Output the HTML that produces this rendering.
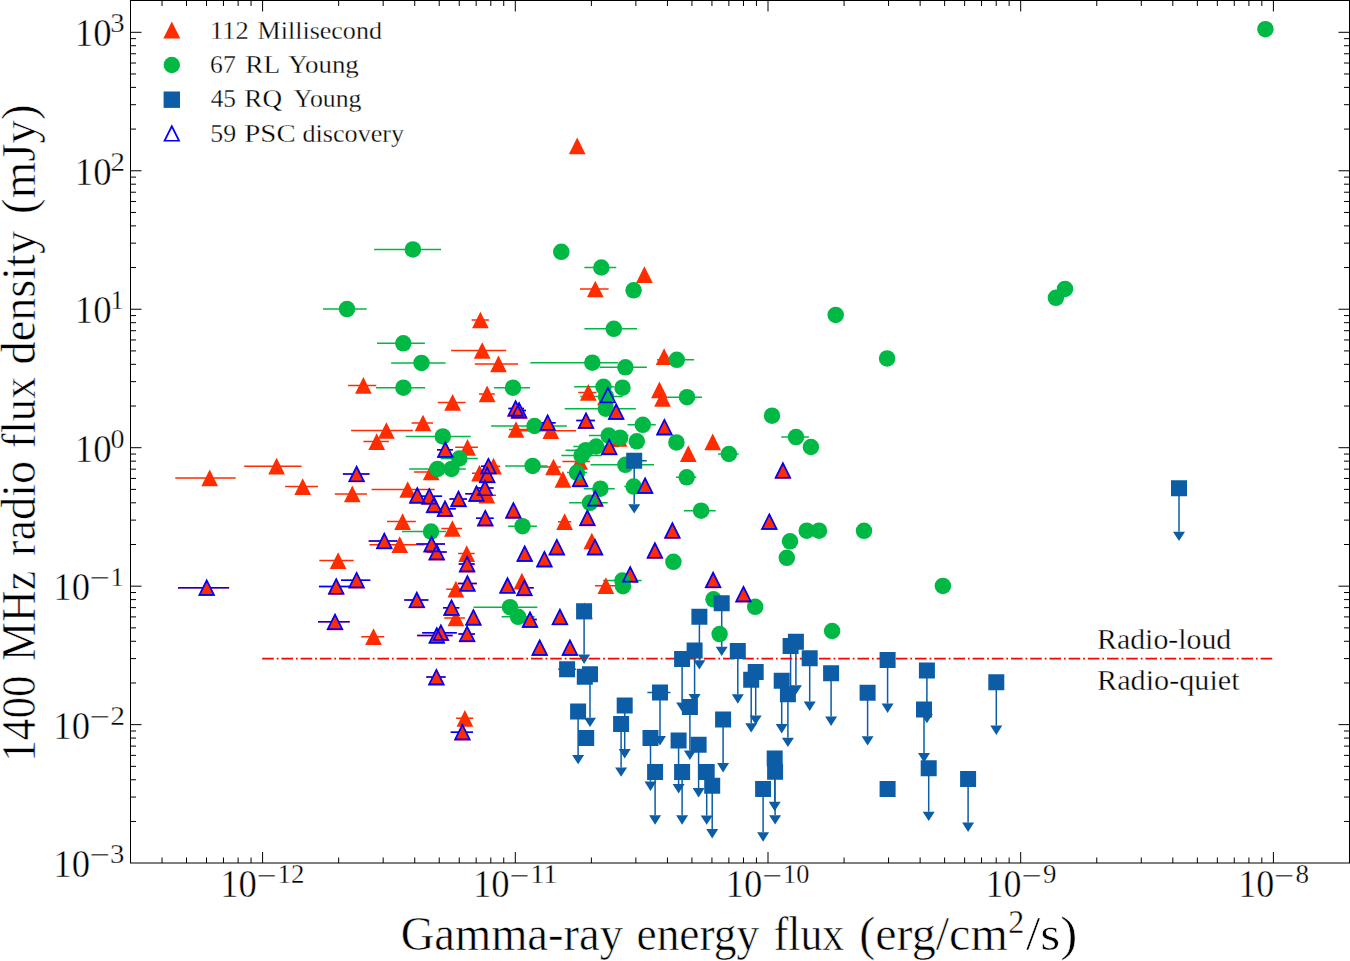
<!DOCTYPE html>
<html><head><meta charset="utf-8"><title>Radio vs gamma-ray flux</title>
<style>html,body{margin:0;padding:0;background:#fff;} svg{display:block;} text{font-family:"Liberation Serif",serif;stroke:#fff;paint-order:fill;}</style>
</head><body>
<svg width="1350" height="961" viewBox="0 0 1350 961">
<rect width="1350" height="961" fill="#fff"/>
<path d="M162.04 863.0v-5.5M162.04 0.5v5.5M186.53 863.0v-5.5M186.53 0.5v5.5M206.54 863.0v-5.5M206.54 0.5v5.5M223.46 863.0v-5.5M223.46 0.5v5.5M238.11 863.0v-5.5M238.11 0.5v5.5M251.04 863.0v-5.5M251.04 0.5v5.5M262.60 863.0v-11M262.60 0.5v11M338.67 863.0v-5.5M338.67 0.5v5.5M383.17 863.0v-5.5M383.17 0.5v5.5M414.74 863.0v-5.5M414.74 0.5v5.5M439.23 863.0v-5.5M439.23 0.5v5.5M459.24 863.0v-5.5M459.24 0.5v5.5M476.16 863.0v-5.5M476.16 0.5v5.5M490.81 863.0v-5.5M490.81 0.5v5.5M503.74 863.0v-5.5M503.74 0.5v5.5M515.30 863.0v-11M515.30 0.5v11M591.37 863.0v-5.5M591.37 0.5v5.5M635.87 863.0v-5.5M635.87 0.5v5.5M667.44 863.0v-5.5M667.44 0.5v5.5M691.93 863.0v-5.5M691.93 0.5v5.5M711.94 863.0v-5.5M711.94 0.5v5.5M728.86 863.0v-5.5M728.86 0.5v5.5M743.51 863.0v-5.5M743.51 0.5v5.5M756.44 863.0v-5.5M756.44 0.5v5.5M768.00 863.0v-11M768.00 0.5v11M844.07 863.0v-5.5M844.07 0.5v5.5M888.57 863.0v-5.5M888.57 0.5v5.5M920.14 863.0v-5.5M920.14 0.5v5.5M944.63 863.0v-5.5M944.63 0.5v5.5M964.64 863.0v-5.5M964.64 0.5v5.5M981.56 863.0v-5.5M981.56 0.5v5.5M996.21 863.0v-5.5M996.21 0.5v5.5M1009.14 863.0v-5.5M1009.14 0.5v5.5M1020.70 863.0v-11M1020.70 0.5v11M1096.77 863.0v-5.5M1096.77 0.5v5.5M1141.27 863.0v-5.5M1141.27 0.5v5.5M1172.84 863.0v-5.5M1172.84 0.5v5.5M1197.33 863.0v-5.5M1197.33 0.5v5.5M1217.34 863.0v-5.5M1217.34 0.5v5.5M1234.26 863.0v-5.5M1234.26 0.5v5.5M1248.91 863.0v-5.5M1248.91 0.5v5.5M1261.84 863.0v-5.5M1261.84 0.5v5.5M1273.40 863.0v-11M1273.40 0.5v11M130.5 821.44h5.5M1349.5 821.44h-5.5M130.5 797.05h5.5M1349.5 797.05h-5.5M130.5 779.75h5.5M1349.5 779.75h-5.5M130.5 766.33h5.5M1349.5 766.33h-5.5M130.5 755.37h5.5M1349.5 755.37h-5.5M130.5 746.10h5.5M1349.5 746.10h-5.5M130.5 738.07h5.5M1349.5 738.07h-5.5M130.5 730.99h5.5M1349.5 730.99h-5.5M130.5 724.65h11M1349.5 724.65h-11M130.5 682.97h5.5M1349.5 682.97h-5.5M130.5 658.58h5.5M1349.5 658.58h-5.5M130.5 641.28h5.5M1349.5 641.28h-5.5M130.5 627.86h5.5M1349.5 627.86h-5.5M130.5 616.90h5.5M1349.5 616.90h-5.5M130.5 607.63h5.5M1349.5 607.63h-5.5M130.5 599.60h5.5M1349.5 599.60h-5.5M130.5 592.52h5.5M1349.5 592.52h-5.5M130.5 586.18h11M1349.5 586.18h-11M130.5 544.50h5.5M1349.5 544.50h-5.5M130.5 520.11h5.5M1349.5 520.11h-5.5M130.5 502.81h5.5M1349.5 502.81h-5.5M130.5 489.39h5.5M1349.5 489.39h-5.5M130.5 478.43h5.5M1349.5 478.43h-5.5M130.5 469.16h5.5M1349.5 469.16h-5.5M130.5 461.13h5.5M1349.5 461.13h-5.5M130.5 454.05h5.5M1349.5 454.05h-5.5M130.5 447.71h11M1349.5 447.71h-11M130.5 406.03h5.5M1349.5 406.03h-5.5M130.5 381.64h5.5M1349.5 381.64h-5.5M130.5 364.34h5.5M1349.5 364.34h-5.5M130.5 350.92h5.5M1349.5 350.92h-5.5M130.5 339.96h5.5M1349.5 339.96h-5.5M130.5 330.69h5.5M1349.5 330.69h-5.5M130.5 322.66h5.5M1349.5 322.66h-5.5M130.5 315.58h5.5M1349.5 315.58h-5.5M130.5 309.24h11M1349.5 309.24h-11M130.5 267.56h5.5M1349.5 267.56h-5.5M130.5 243.17h5.5M1349.5 243.17h-5.5M130.5 225.87h5.5M1349.5 225.87h-5.5M130.5 212.45h5.5M1349.5 212.45h-5.5M130.5 201.49h5.5M1349.5 201.49h-5.5M130.5 192.22h5.5M1349.5 192.22h-5.5M130.5 184.19h5.5M1349.5 184.19h-5.5M130.5 177.11h5.5M1349.5 177.11h-5.5M130.5 170.77h11M1349.5 170.77h-11M130.5 129.09h5.5M1349.5 129.09h-5.5M130.5 104.70h5.5M1349.5 104.70h-5.5M130.5 87.40h5.5M1349.5 87.40h-5.5M130.5 73.98h5.5M1349.5 73.98h-5.5M130.5 63.02h5.5M1349.5 63.02h-5.5M130.5 53.75h5.5M1349.5 53.75h-5.5M130.5 45.72h5.5M1349.5 45.72h-5.5M130.5 38.64h5.5M1349.5 38.64h-5.5M130.5 32.30h11M1349.5 32.30h-11" stroke="#000" stroke-width="1" fill="none"/>
<text x="220.19" y="896.60" font-size="40.00" textLength="36.69" lengthAdjust="spacingAndGlyphs" fill="#000" stroke-width="0.48">10</text>
<text x="257.04" y="884.60" font-size="28.00" textLength="19.89" lengthAdjust="spacingAndGlyphs" fill="#000" stroke-width="0.34">−</text>
<text x="277.55" y="882.80" font-size="28.30" textLength="26.82" lengthAdjust="spacingAndGlyphs" fill="#000" stroke-width="0.34">12</text>
<text x="472.89" y="896.60" font-size="40.00" textLength="36.69" lengthAdjust="spacingAndGlyphs" fill="#000" stroke-width="0.48">10</text>
<text x="509.74" y="884.60" font-size="28.00" textLength="19.89" lengthAdjust="spacingAndGlyphs" fill="#000" stroke-width="0.34">−</text>
<text x="530.13" y="882.80" font-size="28.30" textLength="27.17" lengthAdjust="spacingAndGlyphs" fill="#000" stroke-width="0.34">11</text>
<text x="725.59" y="896.60" font-size="40.00" textLength="36.69" lengthAdjust="spacingAndGlyphs" fill="#000" stroke-width="0.48">10</text>
<text x="762.44" y="884.60" font-size="28.00" textLength="19.89" lengthAdjust="spacingAndGlyphs" fill="#000" stroke-width="0.34">−</text>
<text x="783.00" y="882.80" font-size="28.30" textLength="26.29" lengthAdjust="spacingAndGlyphs" fill="#000" stroke-width="0.34">10</text>
<text x="985.45" y="896.60" font-size="40.00" textLength="36.00" lengthAdjust="spacingAndGlyphs" fill="#000" stroke-width="0.48">10</text>
<text x="1021.65" y="884.60" font-size="28.00" textLength="20.25" lengthAdjust="spacingAndGlyphs" fill="#000" stroke-width="0.34">−</text>
<text x="1042.93" y="882.80" font-size="28.30" textLength="13.45" lengthAdjust="spacingAndGlyphs" fill="#000" stroke-width="0.34">9</text>
<text x="1238.15" y="896.60" font-size="40.00" textLength="36.00" lengthAdjust="spacingAndGlyphs" fill="#000" stroke-width="0.48">10</text>
<text x="1274.35" y="884.60" font-size="28.00" textLength="20.25" lengthAdjust="spacingAndGlyphs" fill="#000" stroke-width="0.34">−</text>
<text x="1295.49" y="882.80" font-size="28.30" textLength="13.53" lengthAdjust="spacingAndGlyphs" fill="#000" stroke-width="0.34">8</text>
<text x="53.29" y="877.02" font-size="40.00" textLength="36.69" lengthAdjust="spacingAndGlyphs" fill="#000" stroke-width="0.48">10</text>
<text x="89.88" y="864.42" font-size="28.00" textLength="20.50" lengthAdjust="spacingAndGlyphs" fill="#000" stroke-width="0.34">−</text>
<text x="110.13" y="863.12" font-size="28.30" textLength="14.42" lengthAdjust="spacingAndGlyphs" fill="#000" stroke-width="0.34">3</text>
<text x="53.29" y="738.55" font-size="40.00" textLength="36.69" lengthAdjust="spacingAndGlyphs" fill="#000" stroke-width="0.48">10</text>
<text x="89.88" y="725.95" font-size="28.00" textLength="20.50" lengthAdjust="spacingAndGlyphs" fill="#000" stroke-width="0.34">−</text>
<text x="110.24" y="724.65" font-size="28.30" textLength="14.78" lengthAdjust="spacingAndGlyphs" fill="#000" stroke-width="0.34">2</text>
<text x="53.29" y="600.08" font-size="40.00" textLength="36.69" lengthAdjust="spacingAndGlyphs" fill="#000" stroke-width="0.48">10</text>
<text x="89.88" y="587.48" font-size="28.00" textLength="20.50" lengthAdjust="spacingAndGlyphs" fill="#000" stroke-width="0.34">−</text>
<text x="110.49" y="586.18" font-size="28.30" textLength="13.19" lengthAdjust="spacingAndGlyphs" fill="#000" stroke-width="0.34">1</text>
<text x="74.78" y="461.61" font-size="40.00" textLength="36.80" lengthAdjust="spacingAndGlyphs" fill="#000" stroke-width="0.48">10</text>
<text x="110.55" y="447.71" font-size="28.30" textLength="14.00" lengthAdjust="spacingAndGlyphs" fill="#000" stroke-width="0.34">0</text>
<text x="74.78" y="323.14" font-size="40.00" textLength="36.80" lengthAdjust="spacingAndGlyphs" fill="#000" stroke-width="0.48">10</text>
<text x="110.59" y="309.24" font-size="28.30" textLength="13.19" lengthAdjust="spacingAndGlyphs" fill="#000" stroke-width="0.34">1</text>
<text x="74.78" y="184.67" font-size="40.00" textLength="36.80" lengthAdjust="spacingAndGlyphs" fill="#000" stroke-width="0.48">10</text>
<text x="110.34" y="170.77" font-size="28.30" textLength="14.78" lengthAdjust="spacingAndGlyphs" fill="#000" stroke-width="0.34">2</text>
<text x="74.78" y="46.20" font-size="40.00" textLength="36.80" lengthAdjust="spacingAndGlyphs" fill="#000" stroke-width="0.48">10</text>
<text x="110.23" y="32.30" font-size="28.30" textLength="14.42" lengthAdjust="spacingAndGlyphs" fill="#000" stroke-width="0.34">3</text>
<text x="400.64" y="949.60" font-size="47.50" textLength="222.40" lengthAdjust="spacingAndGlyphs" fill="#000" stroke-width="0.57">Gamma-ray</text>
<text x="636.48" y="949.60" font-size="47.50" textLength="122.84" lengthAdjust="spacingAndGlyphs" fill="#000" stroke-width="0.57">energy</text>
<text x="773.69" y="949.60" font-size="47.50" textLength="70.50" lengthAdjust="spacingAndGlyphs" fill="#000" stroke-width="0.57">flux</text>
<text x="859.26" y="949.60" font-size="47.50" textLength="148.53" lengthAdjust="spacingAndGlyphs" fill="#000" stroke-width="0.57">(erg/cm</text>
<text x="1008.14" y="932.50" font-size="33.00" textLength="16.02" lengthAdjust="spacingAndGlyphs" fill="#000" stroke-width="0.40">2</text>
<text x="1026.10" y="949.60" font-size="47.50" textLength="51.39" lengthAdjust="spacingAndGlyphs" fill="#000" stroke-width="0.57">/s)</text>
<g transform="rotate(-90)"><text x="-761.67" y="35.20" font-size="47.50" textLength="86.08" lengthAdjust="spacingAndGlyphs" fill="#000" stroke-width="0.57">1400</text><text x="-660.91" y="35.20" font-size="47.50" textLength="90.12" lengthAdjust="spacingAndGlyphs" fill="#000" stroke-width="0.57">MHz</text><text x="-555.93" y="35.20" font-size="47.50" textLength="95.15" lengthAdjust="spacingAndGlyphs" fill="#000" stroke-width="0.57">radio</text><text x="-448.23" y="35.20" font-size="47.50" textLength="71.32" lengthAdjust="spacingAndGlyphs" fill="#000" stroke-width="0.57">flux</text><text x="-364.42" y="35.20" font-size="47.50" textLength="133.47" lengthAdjust="spacingAndGlyphs" fill="#000" stroke-width="0.57">density</text><text x="-213.89" y="35.20" font-size="47.50" textLength="109.41" lengthAdjust="spacingAndGlyphs" fill="#000" stroke-width="0.57">(mJy)</text></g>
<text x="1097.08" y="648.80" font-size="28.80" textLength="134.18" lengthAdjust="spacingAndGlyphs" fill="#000" stroke-width="0.35">Radio-loud</text>
<text x="1097.07" y="690.00" font-size="28.80" textLength="142.52" lengthAdjust="spacingAndGlyphs" fill="#000" stroke-width="0.35">Radio-quiet</text>
<path d="M471.60 320.00H488.90M451.10 350.50H506.20M580.00 289.00H608.60M348.10 385.40H376.30M244.20 466.20H301.60M175.30 477.90H235.70M285.10 486.60H318.00M474.80 363.90H518.10M479.00 393.90H494.80M437.80 402.40H465.60M411.60 423.00H433.00M351.10 430.50H412.90M363.40 441.60H388.90M509.00 429.50H528.30M455.20 447.30H477.90M508.40 408.40H524.00M511.00 410.40H526.00M520.00 430.70H576.00M541.00 422.70H555.60M576.30 420.60H594.90M578.20 392.40H596.40M562.40 461.50H590.00M540.00 467.00H560.80M558.00 521.70H571.20M595.00 585.70H615.00M515.10 587.80H533.70M414.00 472.00H448.40M371.60 489.50H434.70M416.50 496.30H442.10M434.20 508.70H455.80M449.50 498.90H467.00M465.30 493.70H487.70M476.40 488.00H493.60M477.60 495.20H496.00M476.10 518.20H493.60M387.00 521.60H415.80M441.30 528.50H462.10M369.50 544.70H424.40M416.30 544.10H445.00M426.70 552.10H446.70M458.10 553.60H474.70M458.70 564.10H474.70M481.20 466.20H495.00M486.00 466.20H500.00M472.00 473.20H487.00M342.90 474.00H369.50M334.80 493.90H367.00M368.70 541.00H397.40M178.00 587.70H229.10M319.30 560.60H353.70M318.90 586.50H350.00M318.00 621.80H349.70M341.00 580.20H370.30M404.30 600.00H428.40M458.00 583.50H476.80M446.20 589.20H465.00M443.00 607.70H459.30M444.30 618.00H464.90M361.20 636.70H384.30M417.20 635.40H452.60M422.20 632.70H456.80M458.40 633.90H474.90M523.20 619.60H536.80M426.30 677.10H445.60M456.10 718.30H473.30M450.70 732.20H473.00M437.00 449.70H452.90" stroke="#FF2C00" stroke-width="1.5" fill="none"/>
<path d="M374.10 249.40H441.00M323.00 309.10H366.70M377.00 343.30H424.90M391.10 362.90H445.60M584.40 267.50H616.30M584.40 328.80H637.00M376.00 387.70H425.20M494.10 387.70H529.90M491.10 426.00H566.90M405.70 436.40H470.80M440.70 458.50H477.90M530.40 362.70H618.30M599.60 367.30H646.90M657.00 359.80H694.10M574.10 386.80H614.10M667.20 397.20H702.00M580.30 396.50H622.50M564.70 408.70H635.80M627.50 424.80H655.80M588.90 435.60H628.50M670.00 442.40H682.80M573.30 446.50H619.10M565.50 450.20H606.10M561.30 455.40H601.90M567.00 472.60H587.00M590.50 464.80H654.00M624.30 486.60H643.10M583.70 488.70H614.70M569.10 502.80H607.70M781.30 437.10H808.90M718.00 454.00H738.70M676.00 477.30H696.40M684.00 510.70H715.70M508.10 526.20H536.90M603.10 580.60H641.70M409.20 468.90H465.80M442.60 468.90H460.40M402.00 531.60H446.10M473.50 607.20H537.40M501.60 616.80H534.60M505.20 465.90H547.50" stroke="#00B945" stroke-width="1.5" fill="none"/>
<path d="M621.70 460.80H646.70M558.10 669.30H576.10M647.40 692.60H670.50" stroke="#0C5DA5" stroke-width="1.5" fill="none"/>
<path d="M634.20 460.80V504.20M584.10 611.20V654.60M590.00 674.30V717.70M578.10 711.50V754.90M624.70 705.60V749.00M621.10 724.00V767.40M660.00 692.60V736.00M650.50 738.10V781.50M682.10 659.00V702.40M694.60 650.60V694.00M689.90 707.10V750.50M678.60 740.60V784.00M698.60 744.70V788.10M655.10 771.90V815.30M682.10 771.90V815.30M721.70 603.30V646.70M699.40 616.80V660.20M737.80 650.90V694.30M795.90 641.80V685.20M790.60 646.00V689.40M809.70 658.20V701.60M831.10 673.20V716.60M755.70 672.00V715.40M781.70 680.70V724.10M751.20 679.80V723.20M787.90 694.30V737.70M723.10 719.60V763.00M706.70 772.00V815.40M774.70 758.40V801.80M775.10 771.80V815.20M712.20 785.70V829.10M763.10 788.90V832.30M1179.00 488.30V531.70M887.60 660.10V703.50M926.90 670.50V713.90M996.30 682.20V725.60M867.60 692.80V736.20M924.00 709.60V753.00M928.70 768.30V811.70M968.10 779.10V822.50" stroke="#0C5DA5" stroke-width="1.5" fill="none"/>
<path d="M628.20 504.20H640.20L634.20 513.60ZM578.10 654.60H590.10L584.10 664.00ZM584.00 717.70H596.00L590.00 727.10ZM572.10 754.90H584.10L578.10 764.30ZM618.70 749.00H630.70L624.70 758.40ZM615.10 767.40H627.10L621.10 776.80ZM654.00 736.00H666.00L660.00 745.40ZM644.50 781.50H656.50L650.50 790.90ZM676.10 702.40H688.10L682.10 711.80ZM688.60 694.00H700.60L694.60 703.40ZM683.90 750.50H695.90L689.90 759.90ZM672.60 784.00H684.60L678.60 793.40ZM692.60 788.10H704.60L698.60 797.50ZM649.10 815.30H661.10L655.10 824.70ZM676.10 815.30H688.10L682.10 824.70ZM715.70 646.70H727.70L721.70 656.10ZM693.40 660.20H705.40L699.40 669.60ZM731.80 694.30H743.80L737.80 703.70ZM789.90 685.20H801.90L795.90 694.60ZM784.60 689.40H796.60L790.60 698.80ZM803.70 701.60H815.70L809.70 711.00ZM825.10 716.60H837.10L831.10 726.00ZM749.70 715.40H761.70L755.70 724.80ZM775.70 724.10H787.70L781.70 733.50ZM745.20 723.20H757.20L751.20 732.60ZM781.90 737.70H793.90L787.90 747.10ZM717.10 763.00H729.10L723.10 772.40ZM700.70 815.40H712.70L706.70 824.80ZM768.70 801.80H780.70L774.70 811.20ZM769.10 815.20H781.10L775.10 824.60ZM706.20 829.10H718.20L712.20 838.50ZM757.10 832.30H769.10L763.10 841.70ZM1173.00 531.70H1185.00L1179.00 541.10ZM881.60 703.50H893.60L887.60 712.90ZM920.90 713.90H932.90L926.90 723.30ZM990.30 725.60H1002.30L996.30 735.00ZM861.60 736.20H873.60L867.60 745.60ZM918.00 753.00H930.00L924.00 762.40ZM922.70 811.70H934.70L928.70 821.10ZM962.10 822.50H974.10L968.10 831.90Z" fill="#0C5DA5"/>
<path d="M437.00 449.70H452.90M508.40 408.40H524.00M511.00 410.40H526.00M541.00 422.70H555.60M576.30 420.60H594.90M515.10 587.80H533.70M416.50 496.30H442.10M434.20 508.70H455.80M449.50 498.90H467.00M465.30 493.70H487.70M476.40 488.00H493.60M476.10 518.20H493.60M416.30 544.10H445.00M426.70 552.10H446.70M458.70 564.10H474.70M481.20 466.20H495.00M342.90 474.00H369.50M368.70 541.00H397.40M178.00 587.70H229.10M318.90 586.50H350.00M318.00 621.80H349.70M341.00 580.20H370.30M404.30 600.00H428.40M458.00 583.50H476.80M443.00 607.70H459.30M417.20 635.40H452.60M422.20 632.70H456.80M458.40 633.90H474.90M523.20 619.60H536.80M426.30 677.10H445.60M450.70 732.20H473.00" stroke="#0000FF" stroke-width="1.5" fill="none"/>
<path d="M262.2 658.6H1272.8" stroke="#FF0000" stroke-width="1.8" stroke-dasharray="11.6 2.9 1.8 2.9" fill="none"/>
<path d="M480.40 311.65L488.75 328.35L472.05 328.35ZM482.20 342.15L490.55 358.85L473.85 358.85ZM644.40 266.35L652.75 283.05L636.05 283.05ZM595.30 280.65L603.65 297.35L586.95 297.35ZM363.40 377.05L371.75 393.75L355.05 393.75ZM276.60 457.85L284.95 474.55L268.25 474.55ZM209.70 469.55L218.05 486.25L201.35 486.25ZM302.70 478.25L311.05 494.95L294.35 494.95ZM498.50 355.55L506.85 372.25L490.15 372.25ZM487.10 385.55L495.45 402.25L478.75 402.25ZM452.60 394.05L460.95 410.75L444.25 410.75ZM423.00 414.65L431.35 431.35L414.65 431.35ZM386.40 422.15L394.75 438.85L378.05 438.85ZM376.70 433.25L385.05 449.95L368.35 449.95ZM516.00 421.15L524.35 437.85L507.65 437.85ZM467.50 438.95L475.85 455.65L459.15 455.65ZM515.60 400.05L523.95 416.75L507.25 416.75ZM519.10 402.05L527.45 418.75L510.75 418.75ZM550.80 422.35L559.15 439.05L542.45 439.05ZM547.60 414.35L555.95 431.05L539.25 431.05ZM586.00 412.25L594.35 428.95L577.65 428.95ZM588.30 384.05L596.65 400.75L579.95 400.75ZM664.10 348.35L672.45 365.05L655.75 365.05ZM659.40 381.45L667.75 398.15L651.05 398.15ZM662.50 389.95L670.85 406.65L654.15 406.65ZM605.50 388.65L613.85 405.35L597.15 405.35ZM616.20 403.25L624.55 419.95L607.85 419.95ZM664.40 418.85L672.75 435.55L656.05 435.55ZM619.00 430.15L627.35 446.85L610.65 446.85ZM609.20 438.55L617.55 455.25L600.85 455.25ZM579.60 453.15L587.95 469.85L571.25 469.85ZM553.50 458.65L561.85 475.35L545.15 475.35ZM562.90 470.95L571.25 487.65L554.55 487.65ZM580.10 470.45L588.45 487.15L571.75 487.15ZM645.10 477.25L653.45 493.95L636.75 493.95ZM712.70 433.55L721.05 450.25L704.35 450.25ZM688.30 445.35L696.65 462.05L679.95 462.05ZM782.90 462.15L791.25 478.85L774.55 478.85ZM672.40 522.15L680.75 538.85L664.05 538.85ZM769.30 513.35L777.65 530.05L760.95 530.05ZM564.60 513.35L572.95 530.05L556.25 530.05ZM587.40 509.55L595.75 526.25L579.05 526.25ZM591.80 532.65L600.15 549.35L583.45 549.35ZM595.00 538.85L603.35 555.55L586.65 555.55ZM556.80 538.85L565.15 555.55L548.45 555.55ZM524.70 545.35L533.05 562.05L516.35 562.05ZM544.40 550.75L552.75 567.45L536.05 567.45ZM654.90 542.15L663.25 558.85L646.55 558.85ZM605.90 577.35L614.25 594.05L597.55 594.05ZM521.90 572.85L530.25 589.55L513.55 589.55ZM524.40 579.45L532.75 596.15L516.05 596.15ZM431.20 463.65L439.55 480.35L422.85 480.35ZM407.70 481.15L416.05 497.85L399.35 497.85ZM417.30 487.05L425.65 503.75L408.95 503.75ZM429.30 487.95L437.65 504.65L420.95 504.65ZM434.10 496.55L442.45 513.25L425.75 513.25ZM445.00 500.35L453.35 517.05L436.65 517.05ZM458.50 490.55L466.85 507.25L450.15 507.25ZM476.50 485.35L484.85 502.05L468.15 502.05ZM485.00 479.65L493.35 496.35L476.65 496.35ZM486.80 486.85L495.15 503.55L478.45 503.55ZM513.40 501.95L521.75 518.65L505.05 518.65ZM485.30 509.85L493.65 526.55L476.95 526.55ZM402.60 513.25L410.95 529.95L394.25 529.95ZM452.40 520.15L460.75 536.85L444.05 536.85ZM399.70 536.35L408.05 553.05L391.35 553.05ZM431.60 535.75L439.95 552.45L423.25 552.45ZM436.70 543.75L445.05 560.45L428.35 560.45ZM466.70 545.25L475.05 561.95L458.35 561.95ZM467.10 555.75L475.45 572.45L458.75 572.45ZM488.40 457.85L496.75 474.55L480.05 474.55ZM493.50 457.85L501.85 474.55L485.15 474.55ZM479.50 464.85L487.85 481.55L471.15 481.55ZM487.20 466.45L495.55 483.15L478.85 483.15ZM356.60 465.65L364.95 482.35L348.25 482.35ZM352.30 485.55L360.65 502.25L343.95 502.25ZM384.30 532.65L392.65 549.35L375.95 549.35ZM206.70 579.35L215.05 596.05L198.35 596.05ZM338.10 552.25L346.45 568.95L329.75 568.95ZM336.20 578.15L344.55 594.85L327.85 594.85ZM335.00 613.45L343.35 630.15L326.65 630.15ZM356.60 571.85L364.95 588.55L348.25 588.55ZM416.80 591.65L425.15 608.35L408.45 608.35ZM467.40 575.15L475.75 591.85L459.05 591.85ZM455.90 580.85L464.25 597.55L447.55 597.55ZM451.50 599.35L459.85 616.05L443.15 616.05ZM455.90 609.65L464.25 626.35L447.55 626.35ZM473.40 609.05L481.75 625.75L465.05 625.75ZM373.50 628.35L381.85 645.05L365.15 645.05ZM436.80 627.05L445.15 643.75L428.45 643.75ZM440.90 624.35L449.25 641.05L432.55 641.05ZM467.10 625.55L475.45 642.25L458.75 642.25ZM507.50 577.15L515.85 593.85L499.15 593.85ZM530.00 611.25L538.35 627.95L521.65 627.95ZM559.90 608.65L568.25 625.35L551.55 625.35ZM539.70 639.35L548.05 656.05L531.35 656.05ZM569.90 639.35L578.25 656.05L561.55 656.05ZM713.10 571.65L721.45 588.35L704.75 588.35ZM743.50 585.85L751.85 602.55L735.15 602.55ZM436.40 668.75L444.75 685.45L428.05 685.45ZM464.90 709.95L473.25 726.65L456.55 726.65ZM462.40 723.85L470.75 740.55L454.05 740.55ZM577.20 137.55L585.55 154.25L568.85 154.25ZM584.50 602.45L592.85 619.15L576.15 619.15ZM445.30 441.35L453.65 458.05L436.95 458.05ZM595.20 489.95L603.55 506.65L586.85 506.65ZM630.20 566.05L638.55 582.75L621.85 582.75Z" fill="#FF2C00"/>
<g fill="#00B945"><circle cx="412.90" cy="249.40" r="8.25"/><circle cx="347.00" cy="309.10" r="8.25"/><circle cx="403.30" cy="343.30" r="8.25"/><circle cx="421.50" cy="362.90" r="8.25"/><circle cx="561.30" cy="251.80" r="8.25"/><circle cx="601.30" cy="267.50" r="8.25"/><circle cx="633.60" cy="290.30" r="8.25"/><circle cx="613.80" cy="328.80" r="8.25"/><circle cx="403.40" cy="387.70" r="8.25"/><circle cx="513.00" cy="387.70" r="8.25"/><circle cx="534.50" cy="426.00" r="8.25"/><circle cx="442.80" cy="436.40" r="8.25"/><circle cx="459.30" cy="458.50" r="8.25"/><circle cx="592.30" cy="362.70" r="8.25"/><circle cx="625.40" cy="367.30" r="8.25"/><circle cx="676.80" cy="359.80" r="8.25"/><circle cx="603.50" cy="386.80" r="8.25"/><circle cx="622.50" cy="387.70" r="8.25"/><circle cx="687.00" cy="397.20" r="8.25"/><circle cx="606.00" cy="396.50" r="8.25"/><circle cx="605.80" cy="408.70" r="8.25"/><circle cx="642.80" cy="424.80" r="8.25"/><circle cx="608.70" cy="435.60" r="8.25"/><circle cx="620.10" cy="437.70" r="8.25"/><circle cx="636.80" cy="441.30" r="8.25"/><circle cx="676.40" cy="442.40" r="8.25"/><circle cx="596.20" cy="446.50" r="8.25"/><circle cx="585.80" cy="450.20" r="8.25"/><circle cx="581.60" cy="455.40" r="8.25"/><circle cx="577.00" cy="472.60" r="8.25"/><circle cx="625.40" cy="464.80" r="8.25"/><circle cx="633.70" cy="486.60" r="8.25"/><circle cx="600.40" cy="488.70" r="8.25"/><circle cx="590.00" cy="502.80" r="8.25"/><circle cx="772.00" cy="415.70" r="8.25"/><circle cx="796.00" cy="437.10" r="8.25"/><circle cx="810.90" cy="447.00" r="8.25"/><circle cx="728.90" cy="454.00" r="8.25"/><circle cx="686.70" cy="477.30" r="8.25"/><circle cx="701.10" cy="510.70" r="8.25"/><circle cx="790.00" cy="541.30" r="8.25"/><circle cx="806.70" cy="530.70" r="8.25"/><circle cx="819.00" cy="530.70" r="8.25"/><circle cx="522.50" cy="526.20" r="8.25"/><circle cx="673.40" cy="561.80" r="8.25"/><circle cx="622.40" cy="580.60" r="8.25"/><circle cx="623.00" cy="586.20" r="8.25"/><circle cx="437.50" cy="468.90" r="8.25"/><circle cx="451.50" cy="468.90" r="8.25"/><circle cx="431.00" cy="531.60" r="8.25"/><circle cx="510.00" cy="607.20" r="8.25"/><circle cx="518.10" cy="616.80" r="8.25"/><circle cx="713.50" cy="599.30" r="8.25"/><circle cx="755.20" cy="606.80" r="8.25"/><circle cx="719.60" cy="634.10" r="8.25"/><circle cx="832.10" cy="631.00" r="8.25"/><circle cx="864.00" cy="530.80" r="8.25"/><circle cx="835.70" cy="314.90" r="8.25"/><circle cx="887.10" cy="358.40" r="8.25"/><circle cx="1055.90" cy="297.80" r="8.25"/><circle cx="1065.00" cy="288.90" r="8.25"/><circle cx="1265.40" cy="29.20" r="8.25"/><circle cx="942.90" cy="585.90" r="8.25"/><circle cx="786.80" cy="557.80" r="8.25"/><circle cx="532.60" cy="465.90" r="8.25"/></g>
<path d="M626.20 452.80h16v16h-16ZM576.10 603.20h16v16h-16ZM559.10 661.30h16v16h-16ZM582.00 666.30h16v16h-16ZM576.80 668.80h16v16h-16ZM570.10 703.50h16v16h-16ZM578.20 730.10h16v16h-16ZM616.70 697.60h16v16h-16ZM613.10 716.00h16v16h-16ZM652.00 684.60h16v16h-16ZM642.50 730.10h16v16h-16ZM674.10 651.00h16v16h-16ZM686.60 642.60h16v16h-16ZM681.90 699.10h16v16h-16ZM670.60 732.60h16v16h-16ZM690.60 736.70h16v16h-16ZM647.10 763.90h16v16h-16ZM674.10 763.90h16v16h-16ZM713.70 595.30h16v16h-16ZM691.40 608.80h16v16h-16ZM729.80 642.90h16v16h-16ZM787.90 633.80h16v16h-16ZM782.60 638.00h16v16h-16ZM801.70 650.20h16v16h-16ZM823.10 665.20h16v16h-16ZM747.70 664.00h16v16h-16ZM773.70 672.70h16v16h-16ZM743.20 671.80h16v16h-16ZM779.90 686.30h16v16h-16ZM715.10 711.60h16v16h-16ZM698.70 764.00h16v16h-16ZM766.70 750.40h16v16h-16ZM767.10 763.80h16v16h-16ZM704.20 777.70h16v16h-16ZM755.10 780.90h16v16h-16ZM1171.00 480.30h16v16h-16ZM879.60 652.10h16v16h-16ZM918.90 662.50h16v16h-16ZM988.30 674.20h16v16h-16ZM859.60 684.80h16v16h-16ZM916.00 701.60h16v16h-16ZM920.70 760.30h16v16h-16ZM879.60 781.10h16v16h-16ZM960.10 771.10h16v16h-16Z" fill="#0C5DA5"/>
<path d="M445.30 442.45L452.55 456.95L438.05 456.95ZM515.60 401.15L522.85 415.65L508.35 415.65ZM519.10 403.15L526.35 417.65L511.85 417.65ZM547.60 415.45L554.85 429.95L540.35 429.95ZM586.00 413.35L593.25 427.85L578.75 427.85ZM607.90 387.95L615.15 402.45L600.65 402.45ZM616.20 404.35L623.45 418.85L608.95 418.85ZM664.40 419.95L671.65 434.45L657.15 434.45ZM609.20 439.65L616.45 454.15L601.95 454.15ZM580.10 471.55L587.35 486.05L572.85 486.05ZM645.10 478.35L652.35 492.85L637.85 492.85ZM595.20 491.05L602.45 505.55L587.95 505.55ZM782.90 463.25L790.15 477.75L775.65 477.75ZM672.40 523.25L679.65 537.75L665.15 537.75ZM769.30 514.45L776.55 528.95L762.05 528.95ZM587.40 510.65L594.65 525.15L580.15 525.15ZM595.00 539.95L602.25 554.45L587.75 554.45ZM556.80 539.95L564.05 554.45L549.55 554.45ZM524.70 546.45L531.95 560.95L517.45 560.95ZM544.40 551.85L551.65 566.35L537.15 566.35ZM654.90 543.25L662.15 557.75L647.65 557.75ZM630.20 567.15L637.45 581.65L622.95 581.65ZM524.40 580.55L531.65 595.05L517.15 595.05ZM417.30 488.15L424.55 502.65L410.05 502.65ZM429.30 489.05L436.55 503.55L422.05 503.55ZM434.10 497.65L441.35 512.15L426.85 512.15ZM445.00 501.45L452.25 515.95L437.75 515.95ZM458.50 491.65L465.75 506.15L451.25 506.15ZM476.50 486.45L483.75 500.95L469.25 500.95ZM485.00 480.75L492.25 495.25L477.75 495.25ZM513.40 503.05L520.65 517.55L506.15 517.55ZM485.30 510.95L492.55 525.45L478.05 525.45ZM431.60 536.85L438.85 551.35L424.35 551.35ZM436.70 544.85L443.95 559.35L429.45 559.35ZM467.10 556.85L474.35 571.35L459.85 571.35ZM488.40 458.95L495.65 473.45L481.15 473.45ZM487.20 467.55L494.45 482.05L479.95 482.05ZM356.60 466.75L363.85 481.25L349.35 481.25ZM384.30 533.75L391.55 548.25L377.05 548.25ZM206.70 580.45L213.95 594.95L199.45 594.95ZM336.20 579.25L343.45 593.75L328.95 593.75ZM335.00 614.55L342.25 629.05L327.75 629.05ZM356.60 572.95L363.85 587.45L349.35 587.45ZM416.80 592.75L424.05 607.25L409.55 607.25ZM467.40 576.25L474.65 590.75L460.15 590.75ZM451.50 600.45L458.75 614.95L444.25 614.95ZM473.40 610.15L480.65 624.65L466.15 624.65ZM436.80 628.15L444.05 642.65L429.55 642.65ZM440.90 625.45L448.15 639.95L433.65 639.95ZM467.10 626.65L474.35 641.15L459.85 641.15ZM507.50 578.25L514.75 592.75L500.25 592.75ZM530.00 612.35L537.25 626.85L522.75 626.85ZM559.90 609.75L567.15 624.25L552.65 624.25ZM539.70 640.45L546.95 654.95L532.45 654.95ZM569.90 640.45L577.15 654.95L562.65 654.95ZM713.10 572.75L720.35 587.25L705.85 587.25ZM743.50 586.95L750.75 601.45L736.25 601.45ZM436.40 669.85L443.65 684.35L429.15 684.35ZM462.40 724.95L469.65 739.45L455.15 739.45Z" fill="none" stroke="#0000FF" stroke-width="1.7" stroke-linejoin="miter"/>
<path d="M171.80 21.60L180.30 38.60L163.30 38.60Z" fill="#FF2C00"/>
<circle cx="171.8" cy="65.0" r="8.2" fill="#00B945"/>
<rect x="163.6" y="91.5" width="16.4" height="16.4" fill="#0C5DA5"/>
<path d="M171.80 126.25L179.05 140.75L164.55 140.75Z" fill="none" stroke="#0000FF" stroke-width="1.7"/>
<text x="210.08" y="38.60" font-size="25.30" textLength="38.79" lengthAdjust="spacingAndGlyphs" fill="#000" stroke-width="0.30">112</text>
<text x="257.58" y="38.60" font-size="25.30" textLength="124.34" lengthAdjust="spacingAndGlyphs" fill="#000" stroke-width="0.30">Millisecond</text>
<text x="210.11" y="72.90" font-size="25.30" textLength="25.59" lengthAdjust="spacingAndGlyphs" fill="#000" stroke-width="0.30">67</text>
<text x="245.15" y="72.90" font-size="25.30" textLength="35.01" lengthAdjust="spacingAndGlyphs" fill="#000" stroke-width="0.30">RL</text>
<text x="288.33" y="72.90" font-size="25.30" textLength="70.50" lengthAdjust="spacingAndGlyphs" fill="#000" stroke-width="0.30">Young</text>
<text x="210.69" y="107.20" font-size="25.30" textLength="25.32" lengthAdjust="spacingAndGlyphs" fill="#000" stroke-width="0.30">45</text>
<text x="244.35" y="107.20" font-size="25.30" textLength="37.70" lengthAdjust="spacingAndGlyphs" fill="#000" stroke-width="0.30">RQ</text>
<text x="293.84" y="107.20" font-size="25.30" textLength="67.66" lengthAdjust="spacingAndGlyphs" fill="#000" stroke-width="0.30">Young</text>
<text x="210.22" y="141.90" font-size="25.30" textLength="25.82" lengthAdjust="spacingAndGlyphs" fill="#000" stroke-width="0.30">59</text>
<text x="244.31" y="141.90" font-size="25.30" textLength="51.36" lengthAdjust="spacingAndGlyphs" fill="#000" stroke-width="0.30">PSC</text>
<text x="302.49" y="141.90" font-size="25.30" textLength="101.59" lengthAdjust="spacingAndGlyphs" fill="#000" stroke-width="0.30">discovery</text>
<rect x="130.5" y="0.5" width="1219.0" height="862.5" fill="none" stroke="#000" stroke-width="1"/>
</svg>
</body></html>
